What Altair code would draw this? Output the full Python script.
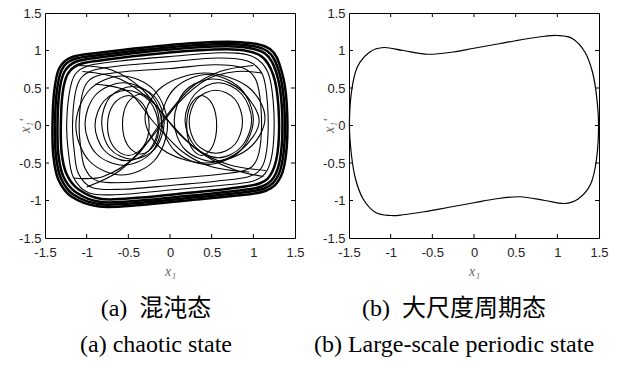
import altair as alt
import pandas as pd

# ---------------- data ----------------
tick_labels = [-1.5, -1, -0.5, 0, 0.5, 1, 1.5]
inner_ticks = [-1, -0.5, 0, 0.5, 1]

# (a) chaotic state : dense outer band (4 neighbouring orbits)
band_1 = [(-1.41, 0.0), (-1.39, 0.45), (-1.33, 0.76), (-1.18, 0.91), (-0.85, 0.97), (-0.3, 1.04),
          (0.3, 1.10), (0.85, 1.11), (1.20, 1.02), (1.34, 0.72), (1.40, 0.30), (1.40, -0.30),
          (1.33, -0.68), (1.15, -0.87), (0.75, -0.94), (0.2, -1.00), (-0.35, -1.06), (-0.85, -1.08),
          (-1.18, -0.95), (-1.34, -0.72), (-1.40, -0.40)]
band_2 = [(-1.38, 0.0), (-1.36, 0.44), (-1.30, 0.74), (-1.16, 0.88), (-0.84, 0.94), (-0.3, 1.01),
          (0.3, 1.07), (0.84, 1.08), (1.17, 0.99), (1.31, 0.71), (1.37, 0.29), (1.37, -0.29),
          (1.30, -0.66), (1.13, -0.84), (0.74, -0.91), (0.2, -0.97), (-0.35, -1.03), (-0.84, -1.05),
          (-1.16, -0.92), (-1.31, -0.70), (-1.37, -0.39)]
band_3 = [(-1.35, 0.0), (-1.33, 0.43), (-1.27, 0.71), (-1.13, 0.85), (-0.83, 0.91), (-0.3, 0.98),
          (0.3, 1.04), (0.83, 1.05), (1.14, 0.96), (1.28, 0.69), (1.34, 0.28), (1.34, -0.28),
          (1.27, -0.64), (1.11, -0.81), (0.73, -0.88), (0.2, -0.94), (-0.35, -1.00), (-0.83, -1.02),
          (-1.13, -0.89), (-1.28, -0.68), (-1.34, -0.38)]
band_4 = [(-1.31, 0.0), (-1.29, 0.42), (-1.23, 0.68), (-1.10, 0.81), (-0.82, 0.87), (-0.3, 0.94),
          (0.3, 1.00), (0.82, 1.01), (1.10, 0.92), (1.24, 0.67), (1.30, 0.27), (1.30, -0.27),
          (1.23, -0.61), (1.08, -0.77), (0.72, -0.84), (0.2, -0.90), (-0.35, -0.96), (-0.82, -0.98),
          (-1.10, -0.85), (-1.24, -0.65), (-1.30, -0.37)]

# thinner big loops inside the band
big_1 = [(-1.24, 0), (-1.21, 0.42), (-1.14, 0.68), (-0.97, 0.80), (-0.6, 0.86), (0, 0.92), (0.6, 0.97),
         (0.97, 0.93), (1.17, 0.72), (1.24, 0.3), (1.24, -0.25), (1.17, -0.59), (1.0, -0.74), (0.6, -0.80),
         (0, -0.86), (-0.6, -0.92), (-0.97, -0.90), (-1.16, -0.69), (-1.22, -0.35)]
big_2 = [(-1.17, 0), (-1.14, 0.41), (-1.07, 0.63), (-0.91, 0.74), (-0.57, 0.80), (0, 0.85), (0.57, 0.90),
         (0.93, 0.86), (1.11, 0.68), (1.17, 0.29), (1.17, -0.23), (1.11, -0.54), (0.95, -0.68), (0.57, -0.74),
         (0, -0.80), (-0.57, -0.85), (-0.93, -0.83), (-1.10, -0.64), (-1.15, -0.33)]
big_3 = [(-1.09, 0), (-1.06, 0.38), (-0.99, 0.58), (-0.85, 0.67), (-0.52, 0.72), (0, 0.76), (0.52, 0.81),
         (0.87, 0.77), (1.03, 0.61), (1.09, 0.26), (1.09, -0.2), (1.03, -0.48), (0.89, -0.6), (0.52, -0.66),
         (0, -0.71), (-0.52, -0.76), (-0.87, -0.74), (-1.02, -0.57), (-1.07, -0.3)]

# loops round the left well
left_1 = [(-1.13, 0), (-0.97, 0.47), (-0.58, 0.66), (-0.19, 0.47), (-0.03, 0), (-0.19, -0.47), (-0.58, -0.66), (-0.97, -0.47)]
left_2 = [(-1.02, 0.02), (-0.89, 0.41), (-0.56, 0.57), (-0.23, 0.41), (-0.10, 0.02), (-0.23, -0.37), (-0.56, -0.53), (-0.89, -0.37)]
left_3 = [(-0.90, 0), (-0.79, 0.33), (-0.52, 0.47), (-0.25, 0.33), (-0.14, 0), (-0.25, -0.33), (-0.52, -0.47), (-0.79, -0.33)]
left_4 = [(-0.75, 0), (-0.68, 0.28), (-0.5, 0.40), (-0.32, 0.28), (-0.25, 0), (-0.32, -0.28), (-0.5, -0.40), (-0.68, -0.28)]
left_5 = [(-0.57, 0.02), (-0.51, 0.30), (-0.35, 0.42), (-0.19, 0.30), (-0.13, 0.02), (-0.19, -0.26), (-0.35, -0.38), (-0.51, -0.26)]
left_6 = [(-0.82, 0.04), (-0.72, 0.38), (-0.45, 0.52), (-0.18, 0.38), (-0.07, 0.04), (-0.18, -0.31), (-0.45, -0.45), (-0.72, -0.31)]

# loops round the right well
right_1 = [(0.23, 0.05), (0.32, 0.35), (0.55, 0.47), (0.78, 0.35), (0.87, 0.05), (0.78, -0.25), (0.55, -0.37), (0.32, -0.25)]
right_2 = [(0.18, 0.07), (0.30, 0.42), (0.58, 0.57), (0.86, 0.42), (0.98, 0.07), (0.86, -0.28), (0.58, -0.43), (0.30, -0.28)]
right_3 = [(-0.10, 0.08), (0.06, 0.50), (0.45, 0.68), (0.84, 0.50), (1.00, 0.08), (0.84, -0.34), (0.45, -0.52), (0.06, -0.34)]
right_4 = [(-0.30, 0.1), (-0.09, 0.52), (0.42, 0.70), (0.93, 0.52), (1.14, 0.1), (0.93, -0.32), (0.42, -0.50), (-0.09, -0.32)]
right_5 = [(0.20, 0), (0.25, 0.28), (0.38, 0.40), (0.51, 0.28), (0.56, 0), (0.51, -0.28), (0.38, -0.40), (0.25, -0.28)]
right_6 = [(0.05, 0.06), (0.18, 0.46), (0.52, 0.62), (0.86, 0.46), (1.07, 0.06), (0.86, -0.32), (0.52, -0.48), (0.18, -0.32)]

# crossing arcs between the wells
cross_1 = [(-1.0, -0.82), (-0.6, -0.6), (-0.25, -0.2), (0.1, 0.3), (0.45, 0.62), (0.8, 0.72), (1.1, 0.7)]
cross_2 = [(-1.15, -0.7), (-0.8, -0.68), (-0.4, -0.4), (-0.1, 0.05), (0.25, 0.5), (0.6, 0.72), (1.0, 0.8)]
cross_3 = [(-1.05, 0.72), (-0.6, 0.62), (-0.2, 0.3), (0.1, -0.1), (0.45, -0.42), (0.8, -0.6), (1.12, -0.68)]
cross_4 = [(-0.9, 0.55), (-0.5, 0.45), (-0.2, 0.05), (0.15, -0.35), (0.5, -0.55), (0.95, -0.62)]
cross_5 = [(-1.1, 0.8), (-0.7, 0.74), (-0.35, 0.5), (-0.05, 0.1), (0.3, -0.3), (0.7, -0.52), (1.15, -0.6)]

# (b) large-scale periodic state
periodic = [(-1.495, 0), (-1.47, 0.45), (-1.40, 0.78), (-1.25, 0.98), (-1.08, 1.04), (-0.85, 1.0),
            (-0.55, 0.95), (-0.25, 0.98), (0, 1.03), (0.3, 1.09), (0.6, 1.15), (0.85, 1.19), (1.0, 1.2),
            (1.18, 1.16), (1.33, 0.98), (1.42, 0.72), (1.47, 0.40), (1.495, 0), (1.47, -0.45),
            (1.40, -0.78), (1.25, -0.98), (1.08, -1.04), (0.85, -1.0), (0.55, -0.95), (0.25, -0.98),
            (0, -1.03), (-0.3, -1.09), (-0.6, -1.15), (-0.85, -1.19), (-1.0, -1.2), (-1.18, -1.16),
            (-1.33, -0.98), (-1.42, -0.72), (-1.47, -0.40)]

caption_a = ["(a)\u00a0 混沌态", "(a) chaotic state"]
caption_b = ["(b)\u00a0 大尺度周期态", "(b) Large-scale periodic state"]


def frame(named):
    rows = []
    for name, pts in named.items():
        for i, (x, y) in enumerate(pts):
            rows.append({"loop": name, "i": i, "x": x, "y": y})
    return pd.DataFrame(rows)


band_df = frame({"b1": band_1, "b2": band_2, "b3": band_3, "b4": band_4})
loops_df = frame({"g1": big_1, "g2": big_2, "g3": big_3,
                  "l1": left_1, "l2": left_2, "l3": left_3, "l4": left_4, "l5": left_5, "l6": left_6,
                  "r1": right_1, "r2": right_2, "r3": right_3, "r4": right_4, "r5": right_5, "r6": right_6})
cross_df = frame({"c1": cross_1, "c2": cross_2, "c3": cross_3, "c4": cross_4, "c5": cross_5})
periodic_df = frame({"p": periodic})
ticks_df = pd.DataFrame({"t": inner_ticks})

W, H = 250, 225
LABEL_FONT = "Liberation Sans"


def scale():
    return alt.Scale(domain=[-1.5, 1.5], nice=False, zero=False)


X_AXIS = alt.Axis(values=tick_labels, ticks=False, domain=False, grid=False,
                  labelExpr="datum.value + ''", labelFlush=False, labelOverlap=False,
                  labelPadding=8, labelFont=LABEL_FONT, labelFontSize=13, labelColor="#222",
                  title="x₁", titleFont="Liberation Serif", titleFontStyle="italic",
                  titleFontWeight="normal", titleFontSize=14, titleColor="#666",
                  titleX=W / 2, titleY=37, titleBaseline="alphabetic", titleAlign="center")

Y_AXIS = alt.Axis(values=tick_labels, ticks=False, domain=False, grid=False,
                  labelExpr="datum.value + ''", labelFlush=False, labelOverlap=False,
                  labelPadding=4, labelFont=LABEL_FONT, labelFontSize=13, labelColor="#222",
                  title="x₁'", titleFont="Liberation Serif", titleFontStyle="italic",
                  titleFontWeight="normal", titleFontSize=14, titleColor="#666",
                  titleX=-20, titleY=H / 2, titleBaseline="middle", titleAlign="center", titleAngle=270)


def curves(df, closed=True, width=1.0):
    return alt.Chart(df).mark_line(
        interpolate="cardinal-closed" if closed else "cardinal",
        color="black", strokeWidth=width
    ).encode(
        x=alt.X("x:Q", scale=scale(), axis=X_AXIS),
        y=alt.Y("y:Q", scale=scale(), axis=Y_AXIS),
        detail="loop:N", order="i:Q")


def inward_ticks():
    base = alt.Chart(ticks_df)
    tx = alt.X("t:Q", scale=scale(), axis=X_AXIS)
    ty = alt.Y("t:Q", scale=scale(), axis=Y_AXIS)
    bottom = base.mark_rule(color="black").encode(x=tx, y=alt.value(H), y2=alt.value(H - 4))
    top = base.mark_rule(color="black").encode(x=tx, y=alt.value(0), y2=alt.value(4))
    left = base.mark_rule(color="black").encode(y=ty, x=alt.value(0), x2=alt.value(4))
    right = base.mark_rule(color="black").encode(y=ty, x=alt.value(W), x2=alt.value(W - 4))
    return [bottom, top, left, right]


def caption(lines, dx):
    return alt.TitleParams(text=lines, orient="bottom", anchor="middle",
                           font="Liberation Serif, Noto Sans CJK SC", fontSize=24,
                           fontWeight="normal", color="black", lineHeight=36, offset=19, dx=dx)


left_panel = alt.layer(
    curves(band_df, width=2.5),
    curves(loops_df, width=1.1),
    curves(cross_df, closed=False, width=1.1),
    *inward_ticks()
).properties(width=W, height=H, title=caption(caption_a, -14))

right_panel = alt.layer(
    curves(periodic_df, width=1.2),
    *inward_ticks()
).properties(width=W, height=H, title=caption(caption_b, -20))

chart = alt.hconcat(left_panel, right_panel, spacing=54, bounds="flush").properties(
    padding={"left": 17, "top": 6, "right": 0, "bottom": 0}
).configure_view(stroke="black", strokeWidth=1)

chart.save("out.html", embed_options={"renderer": "svg", "actions": False})
